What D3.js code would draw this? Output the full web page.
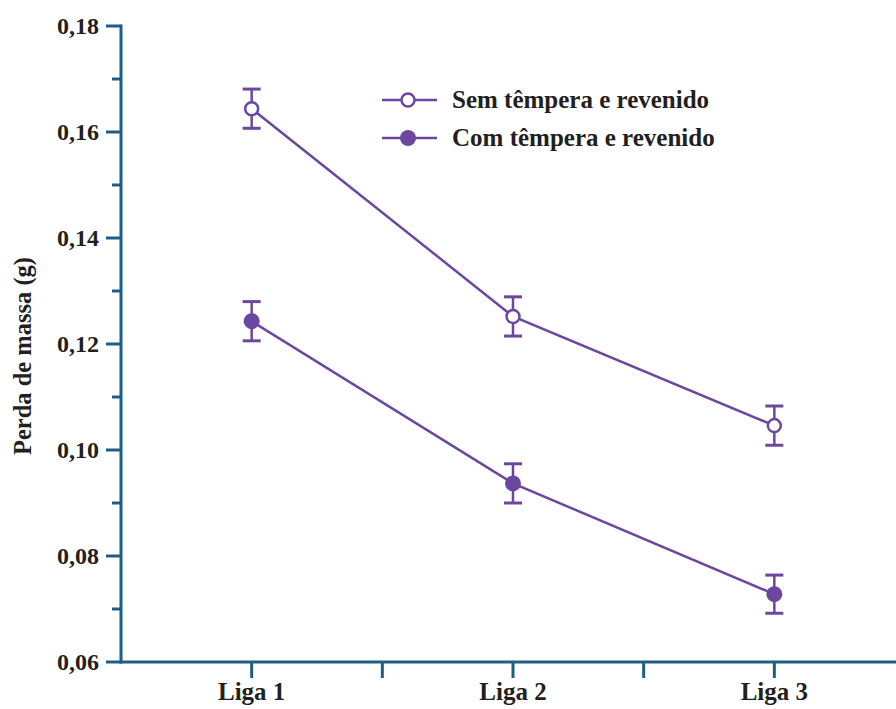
<!DOCTYPE html>
<html><head><meta charset="utf-8">
<script src="https://cdn.jsdelivr.net/npm/d3@7"></script>
<style>body{margin:0;background:#fff}svg{display:block}</style>
</head><body>
<svg id="c" width="896" height="709"></svg>
<script>
const categories = ["Liga 1", "Liga 2", "Liga 3"];
const seriesNames = ["Sem têmpera e revenido", "Com têmpera e revenido"];
const semValues = [0.1644, 0.1252, 0.1046];
const comValues = [0.1243, 0.0937, 0.0728];
const semErrors = [0.0037, 0.0037, 0.0037];
const comErrors = [0.0037, 0.0037, 0.0036];
const yTicks = [0.06, 0.08, 0.10, 0.12, 0.14, 0.16, 0.18];
const yMinorTicks = [0.07, 0.09, 0.11, 0.13, 0.15, 0.17];
const yLabel = "Perda de massa (g)";

const axisColor = "#1c5e84", lineColor = "#6b47a0", textColor = "#231f20";
const font = "'Liberation Serif', 'DejaVu Serif', serif";
const svg = d3.select("#c");

const x = d3.scaleLinear().domain([0, 6]).range([121, 905]);
const catPos = i => x(1 + 2 * i);
const y = d3.scaleLinear().domain([0.06, 0.18]).range([662, 26]);

// Y axis
const gy = svg.append("g").attr("transform", `translate(${x(0)},0)`);
gy.append("line").attr("y1", y(0.06) + 1.5).attr("y2", y(0.18) - 1.5)
  .attr("stroke", axisColor).attr("stroke-width", 3);
gy.selectAll(".maj").data(yTicks).join("line")
  .attr("x1", -15).attr("x2", 0).attr("y1", d => y(d)).attr("y2", d => y(d))
  .attr("stroke", axisColor).attr("stroke-width", 3);
gy.selectAll(".min").data(yMinorTicks).join("line")
  .attr("x1", -9).attr("x2", 0).attr("y1", d => y(d)).attr("y2", d => y(d))
  .attr("stroke", axisColor).attr("stroke-width", 3);
gy.selectAll("text").data(yTicks).join("text")
  .attr("x", -22).attr("y", d => y(d)).attr("dy", "0.33em")
  .attr("text-anchor", "end").attr("font-family", font).attr("font-weight", "bold")
  .attr("font-size", 24).attr("fill", textColor)
  .text(d => d3.format(".2f")(d).replace(".", ","));

// X axis
const gx = svg.append("g").attr("transform", `translate(0,${y(0.06)})`);
gx.append("line").attr("x1", x(0) - 1.5).attr("x2", x(6))
  .attr("stroke", axisColor).attr("stroke-width", 3);
gx.selectAll(".xt").data([1, 2, 3, 4, 5]).join("line")
  .attr("x1", d => x(d)).attr("x2", d => x(d)).attr("y1", 0).attr("y2", 16)
  .attr("stroke", axisColor).attr("stroke-width", 3);
gx.selectAll("text").data(categories).join("text")
  .attr("x", (d, i) => catPos(i)).attr("y", 38)
  .attr("text-anchor", "middle").attr("font-family", font).attr("font-weight", "bold")
  .attr("font-size", 25).attr("fill", textColor).text(d => d);

// Y label
svg.append("text").attr("transform", `translate(31,356) rotate(-90)`)
  .attr("text-anchor", "middle").attr("font-family", font).attr("font-weight", "bold")
  .attr("font-size", 24.5).attr("fill", textColor).text(yLabel);

// Series
const series = [
  {name: seriesNames[0], vals: semValues, errs: semErrors, filled: false},
  {name: seriesNames[1], vals: comValues, errs: comErrors, filled: true}
];
const line = d3.line().x((d, i) => catPos(i)).y(d => y(d));
series.forEach(s => {
  const g = svg.append("g");
  g.append("path").attr("d", line(s.vals)).attr("fill", "none")
    .attr("stroke", lineColor).attr("stroke-width", 2.5);
  s.vals.forEach((v, i) => {
    const cx = catPos(i), lo = y(v - s.errs[i]), hi = y(v + s.errs[i]);
    g.append("line").attr("x1", cx).attr("x2", cx).attr("y1", lo).attr("y2", hi)
      .attr("stroke", lineColor).attr("stroke-width", 2.5);
    [lo, hi].forEach(yy => g.append("line").attr("x1", cx - 9).attr("x2", cx + 9)
      .attr("y1", yy).attr("y2", yy).attr("stroke", lineColor).attr("stroke-width", 3));
    g.append("circle").attr("cx", cx).attr("cy", y(v)).attr("r", s.filled ? 8 : 6.5)
      .attr("fill", s.filled ? lineColor : "#fff")
      .attr("stroke", lineColor).attr("stroke-width", s.filled ? 0 : 2.5);
  });
});

// Legend
const leg = svg.append("g");
series.forEach((s, i) => {
  const ly = 100 + i * 38;
  leg.append("line").attr("x1", 382).attr("x2", 437).attr("y1", ly).attr("y2", ly)
    .attr("stroke", lineColor).attr("stroke-width", 2.5);
  leg.append("circle").attr("cx", 408).attr("cy", ly).attr("r", s.filled ? 8 : 6.5)
    .attr("fill", s.filled ? lineColor : "#fff")
    .attr("stroke", lineColor).attr("stroke-width", s.filled ? 0 : 2.5);
  leg.append("text").attr("x", 452).attr("y", ly).attr("dy", "0.32em")
    .attr("font-family", font).attr("font-weight", "bold").attr("font-size", 25)
    .attr("fill", textColor).text(s.name);
});
</script>
</body></html>
